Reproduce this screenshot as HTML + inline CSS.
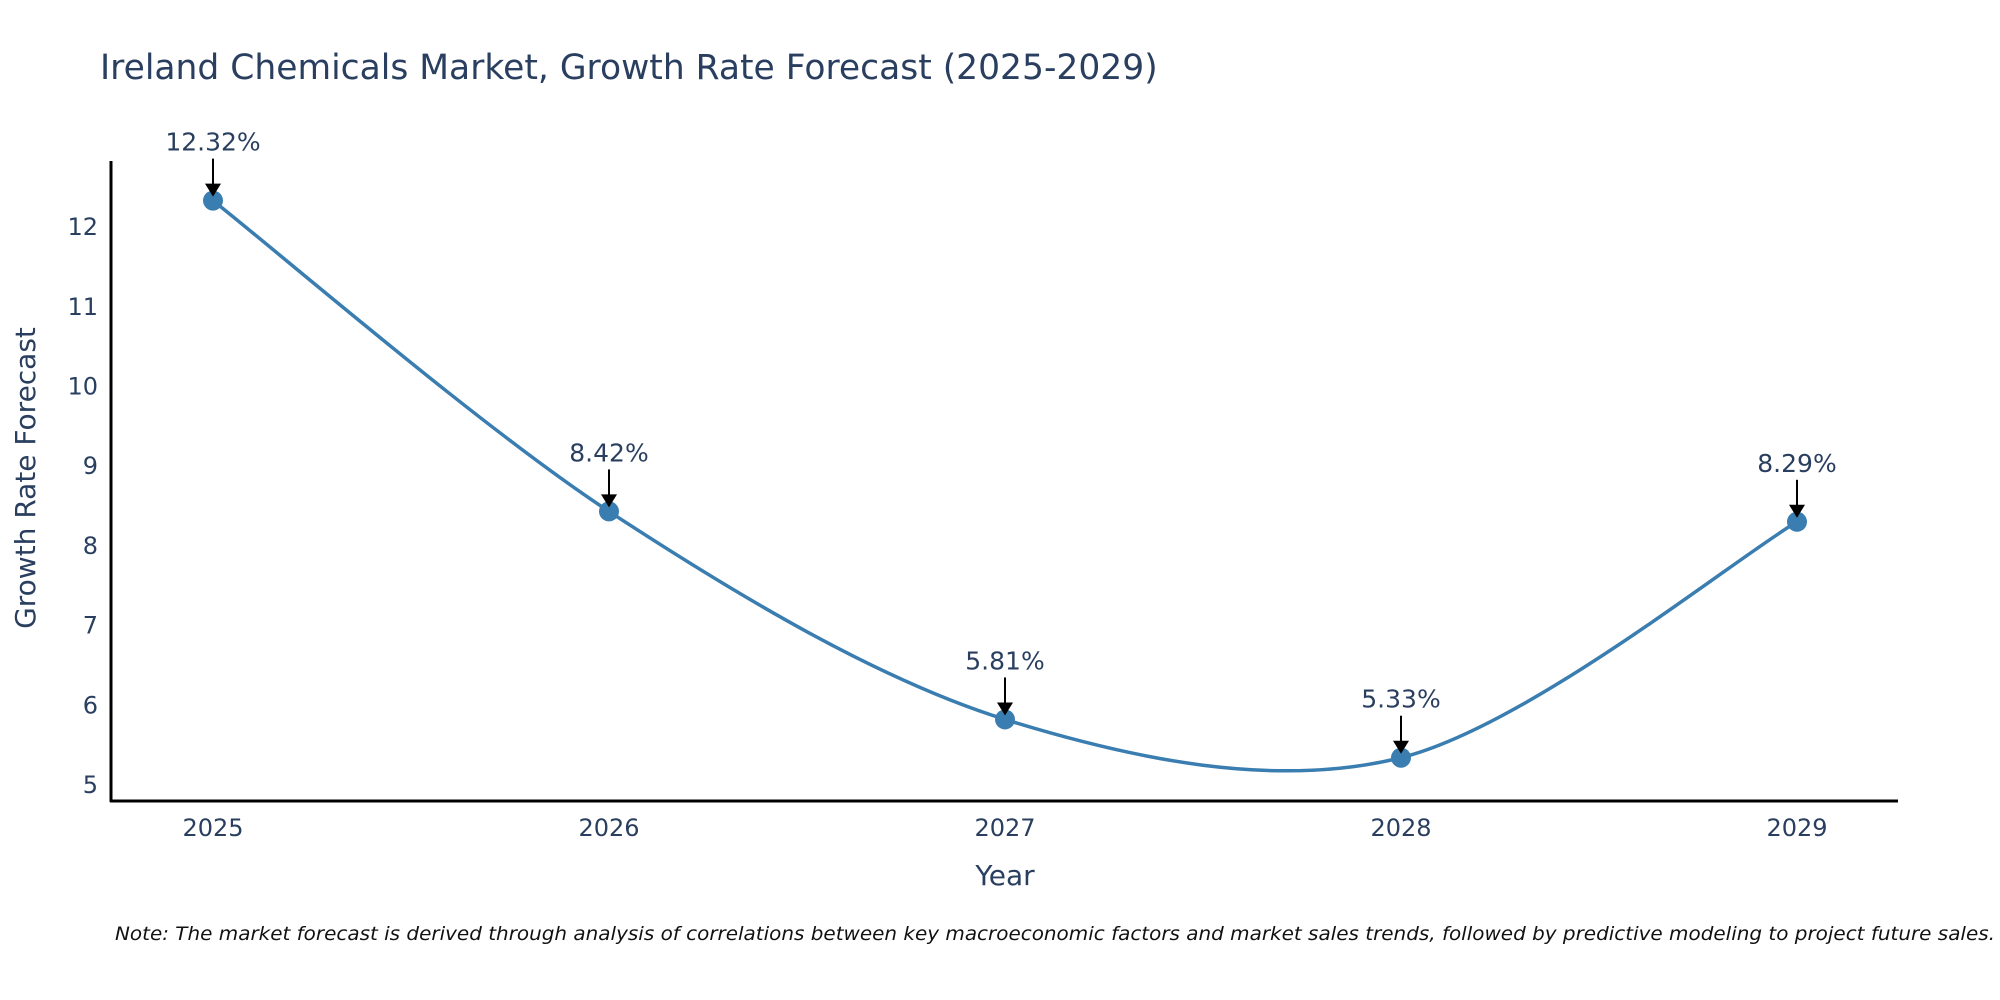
<!DOCTYPE html>
<html><head><meta charset="utf-8"><style>
body{margin:0;background:#fff;}
svg{display:block;font-family:"DejaVu Sans","Liberation Sans",sans-serif;}
</style></head><body>
<svg id="chart" width="2000" height="1000">
<text x="100" y="79" font-size="34.5" fill="#2a3f5f">Ireland Chemicals Market, Growth Rate Forecast (2025-2029)</text>
<g id="yticks"></g>
<g id="xticks"></g>
<line x1="111" y1="161" x2="111" y2="802" stroke="#000" stroke-width="3"/>
<line x1="110" y1="801" x2="1898" y2="801" stroke="#000" stroke-width="3"/>
<path id="line" fill="none" stroke="#3a7db0" stroke-width="3.5"/>
<g id="points"></g>
<g id="annots"></g>
<text x="1005" y="885" font-size="28" fill="#2a3f5f" text-anchor="middle">Year</text>
<text transform="translate(35,478) rotate(-90)" font-size="28" fill="#2a3f5f" text-anchor="middle">Growth Rate Forecast</text>
<text x="115" y="940" font-size="19" font-style="italic" fill="#111" textLength="1880" lengthAdjust="spacingAndGlyphs">Note: The market forecast is derived through analysis of correlations between key macroeconomic factors and market sales trends, followed by predictive modeling to project future sales.</text>
</svg>
<script>
const years=["2025","2026","2027","2028","2029"];
const values=[12.32,8.42,5.81,5.33,8.29];
const labels=["12.32%","8.42%","5.81%","5.33%","8.29%"];
const yTicks=[5,6,7,8,9,10,11,12];
const NS="http://www.w3.org/2000/svg";
function xs(i){return 213+i*396;}
function ys(v){return 784-(v-5)*79.7;}
function mk(t,a,p){const e=document.createElementNS(NS,t);for(const k in a)e.setAttribute(k,a[k]);p.appendChild(e);return e;}
const yt=document.getElementById('yticks');
yTicks.forEach(v=>{const t=mk('text',{x:98,y:ys(v)+9,'font-size':24,fill:'#2a3f5f','text-anchor':'end'},yt);t.textContent=v;

});
const xt=document.getElementById('xticks');
years.forEach((y,i)=>{const t=mk('text',{x:xs(i),y:836,'font-size':24,fill:'#2a3f5f','text-anchor':'middle'},xt);t.textContent=y;

});
const P=values.map((v,i)=>[xs(i),ys(v)]);
let d=`M${P[0][0]},${P[0][1]}`;
for(let i=0;i<P.length-1;i++){
 const p0=P[Math.max(i-1,0)],p1=P[i],p2=P[i+1],p3=P[Math.min(i+2,P.length-1)];
 const k=0.16;
 const c1=[p1[0]+(p2[0]-p0[0])*k,p1[1]+(p2[1]-p0[1])*k];
 const c2=[p2[0]-(p3[0]-p1[0])*k,p2[1]-(p3[1]-p1[1])*k];
 d+=` C${c1[0]},${c1[1]} ${c2[0]},${c2[1]} ${p2[0]},${p2[1]}`;
}
document.getElementById('line').setAttribute('d',d);
const pg=document.getElementById('points'),ag=document.getElementById('annots');
P.forEach((p,i)=>{
 const c=mk('circle',{cx:p[0],cy:p[1],r:10,fill:'#3a7db0'},pg);
 
 
 const l=mk('line',{x1:p[0],y1:p[1]-42,x2:p[0],y2:p[1]-14,stroke:'#000','stroke-width':2},ag);
 
 
 const a=mk('polygon',{points:`${p[0]-8},${p[1]-17} ${p[0]+8},${p[1]-17} ${p[0]},${p[1]-4}`,fill:'#000'},ag);
 
 
 const t=mk('text',{x:p[0],y:p[1]-50,'font-size':25,fill:'#2a3f5f','text-anchor':'middle'},ag);
 t.textContent=labels[i];
 
 
});
</script>
</body></html>
